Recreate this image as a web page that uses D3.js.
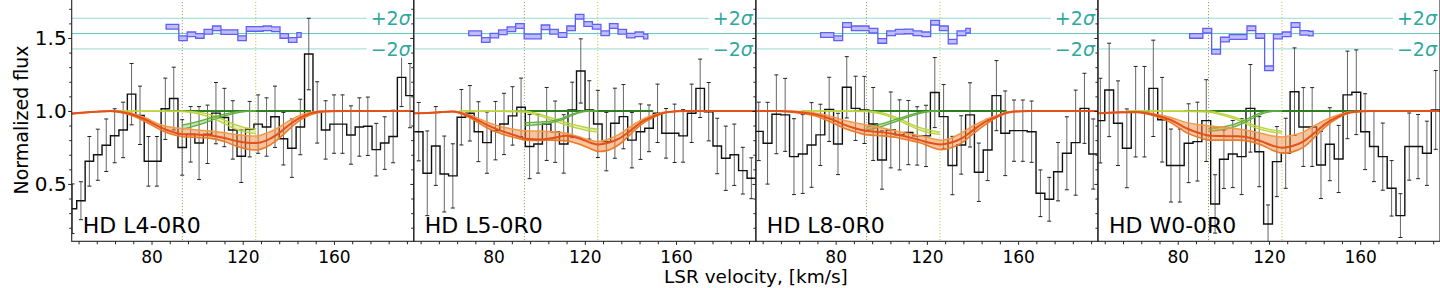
<!DOCTYPE html>
<html>
<head>
<meta charset="utf-8">
<script src="https://cdn.jsdelivr.net/npm/d3@7"></script>
<style>
  body { margin: 0; background: #fff; }
  svg { display: block; font-family: "DejaVu Sans", sans-serif; }
</style>
</head>
<body>
<svg id="chart" width="1440" height="288"></svg>
<script>
// ---------------- data ----------------
const panelNames = ["HD L4-0R0", "HD L5-0R0", "HD L8-0R0", "HD W0-0R0"];

// spectral bins: left edge of the first bin and bin width, km/s
const binStart = [43.5, 45.3, 44.34, 44.13];
const binWidth = [3.70, 3.74, 3.86, 3.87];

const flux = [
  [0.33, 0.385, 0.655, 0.70, 0.765, 0.83, 0.87, 1.115, 0.97, 0.655, 0.655, 1.015, 1.085, 0.75, 0.84, 0.78, 0.84, 0.985, 0.955, 0.87, 0.69,
   0.875, 0.91, 0.89, 0.96, 0.81, 0.745, 0.89, 1.39, 0.99, 0.87, 0.91, 0.91, 0.835, 0.89, 0.895, 0.735, 0.78, 0.825, 1.23, 1.105],
  [0.858, 0.573, 0.760, 0.568, 0.555, 0.957, 0.984, 0.858, 0.783, 0.865, 0.911, 0.966, 1.025, 0.756, 0.774, 0.911, 0.858, 0.774, 1.007, 1.274,
   1.007, 0.911, 0.79, 0.916, 0.961, 0.80, 0.858, 0.881, 0.984, 0.847, 0.847, 0.829, 0.984, 1.155, 0.995, 0.76, 0.676, 0.70, 0.591, 0.539],
  [0.86, 0.779, 0.977, 0.973, 0.687, 0.705, 0.767, 0.836, 1.011, 0.774, 1.162, 1.018, 1.007, 0.911, 0.664, 0.870, 0.836, 0.852, 0.829, 0.829,
   1.126, 0.961, 0.626, 0.767, 0.973, 0.580, 0.733, 1.105, 0.847, 0.865, 0.865, 0.858, 0.436, 0.395, 0.584, 0.710, 0.783, 1.018, 0.705],
  [0.934, 1.144, 0.916, 0.744, 0.995, 0.995, 1.155, 0.94, 0.626, 0.626, 0.779, 0.79, 0.934, 0.363, 0.669, 0.705, 0.687, 1.018, 0.721, 0.226,
   0.653, 0.71, 1.132, 0.89, 0.89, 0.63, 0.772, 0.671, 1.11, 1.128, 0.858, 0.756, 0.687, 0.47, 0.283, 0.756, 0.756, 0.71, 1.007]
];

const fluxErr = [
  [0.17, 0.13, 0.17, 0.175, 0.18, 0.185, 0.19, 0.21, 0.2, 0.17, 0.17, 0.21, 0.215, 0.19, 0.19, 0.25, 0.2, 0.21, 0.2, 0.2, 0.18,
   0.19, 0.2, 0.2, 0.21, 0.18, 0.2, 0.19, 0.245, 0.21, 0.2, 0.2, 0.2, 0.2, 0.2, 0.2, 0.18, 0.18, 0.18, 0.2, 0.22],
  [0.2, 0.29, 0.27, 0.26, 0.22, 0.19, 0.19, 0.205, 0.21, 0.2, 0.21, 0.2, 0.2, 0.22, 0.2, 0.25, 0.21, 0.2, 0.19, 0.22,
   0.2, 0.23, 0.2, 0.24, 0.22, 0.19, 0.19, 0.16, 0.2, 0.17, 0.2, 0.18, 0.2, 0.2, 0.2, 0.19, 0.22, 0.21, 0.16, 0.14],
  [0.2, 0.28, 0.27, 0.25, 0.26, 0.27, 0.29, 0.21, 0.22, 0.21, 0.21, 0.22, 0.23, 0.25, 0.2, 0.26, 0.24, 0.22, 0.2, 0.21,
   0.24, 0.22, 0.2, 0.2, 0.22, 0.2, 0.21, 0.24, 0.29, 0.21, 0.21, 0.21, 0.16, 0.15, 0.2, 0.25, 0.36, 0.24, 0.24],
  [0.29, 0.32, 0.29, 0.27, 0.31, 0.31, 0.33, 0.29, 0.25, 0.25, 0.27, 0.27, 0.28, 0.2, 0.2, 0.23, 0.26, 0.3, 0.24, 0.13,
   0.24, 0.24, 0.3, 0.27, 0.27, 0.23, 0.25, 0.23, 0.3, 0.29, 0.26, 0.24, 0.23, 0.19, 0.15, 0.23, 0.22, 0.22, 0.27]
];

// residuals (shifted to the 1.53 level): centre of first bin, then one value per bin
const resStart = [86.4, 69.1, 73.4, 85.2];
const resid = [
  [1.577, 1.577, 1.498, 1.525, 1.514, 1.543, 1.566, 1.54, 1.54, 1.498, 1.562, 1.562, 1.566, 1.56, 1.514, 1.486, 1.52],
  [1.532, 1.532, 1.486, 1.516, 1.539, 1.56, 1.582, 1.51, 1.51, 1.573, 1.543, 1.52, 1.566, 1.646, 1.596, 1.577, 1.532, 1.582, 1.543, 1.516, 1.525, 1.51],
  [1.52, 1.52, 1.498, 1.589, 1.566, 1.566, 1.55, 1.48, 1.532, 1.543, 1.545, 1.532, 1.525, 1.605, 1.566, 1.475, 1.532, 1.55],
  [1.514, 1.514, 1.55, 1.406, 1.489, 1.507, 1.507, 1.566, 1.514, 1.292, 1.51, 1.525, 1.589, 1.535, 1.53]
];

const modelVel = [45, 55, 62, 70, 77, 84, 90, 94, 100, 106, 112, 117, 122, 126, 130, 135, 140, 145, 150, 156, 165, 195];
const modelHigh = [
  [0.985, 0.995, 1.0, 0.99, 0.955, 0.905, 0.885, 0.88, 0.87, 0.862, 0.85, 0.838, 0.83, 0.828, 0.845, 0.88, 0.93, 0.97, 0.992, 1.0, 1.0, 1.0],
  [0.985, 0.99, 0.998, 0.97, 0.925, 0.89, 0.872, 0.865, 0.862, 0.858, 0.847, 0.825, 0.8, 0.79, 0.805, 0.84, 0.893, 0.94, 0.972, 0.995, 1.0, 1.0],
  [1.0, 1.0, 0.998, 0.988, 0.968, 0.935, 0.915, 0.903, 0.885, 0.865, 0.845, 0.83, 0.812, 0.8, 0.81, 0.848, 0.895, 0.935, 0.965, 0.995, 1.0, 1.0],
  [0.985, 0.992, 0.995, 0.98, 0.955, 0.92, 0.905, 0.897, 0.888, 0.878, 0.862, 0.845, 0.828, 0.822, 0.832, 0.855, 0.9, 0.94, 0.97, 0.995, 1.0, 1.0]
];
const modelLow = [
  [0.98, 0.993, 0.998, 0.975, 0.93, 0.87, 0.835, 0.823, 0.818, 0.812, 0.79, 0.76, 0.738, 0.733, 0.75, 0.8, 0.87, 0.935, 0.975, 0.995, 1.0, 1.0],
  [0.983, 0.99, 0.995, 0.95, 0.885, 0.84, 0.815, 0.8, 0.798, 0.8, 0.795, 0.775, 0.745, 0.722, 0.73, 0.77, 0.84, 0.91, 0.955, 0.99, 1.0, 1.0],
  [1.0, 0.998, 0.99, 0.97, 0.93, 0.88, 0.85, 0.836, 0.83, 0.82, 0.8, 0.782, 0.752, 0.735, 0.745, 0.778, 0.84, 0.9, 0.95, 0.988, 1.0, 1.0],
  [0.983, 0.99, 0.99, 0.965, 0.92, 0.85, 0.815, 0.8, 0.8, 0.8, 0.79, 0.765, 0.728, 0.71, 0.718, 0.75, 0.82, 0.895, 0.95, 0.988, 1.0, 1.0]
];
const modelBest = [
  [0.983, 0.994, 1.0, 0.982, 0.943, 0.888, 0.853, 0.84, 0.838, 0.832, 0.815, 0.795, 0.782, 0.78, 0.795, 0.838, 0.9, 0.952, 0.985, 0.998, 1.0, 1.0],
  [0.984, 0.99, 0.996, 0.96, 0.905, 0.86, 0.83, 0.81, 0.805, 0.815, 0.83, 0.815, 0.785, 0.77, 0.78, 0.81, 0.865, 0.925, 0.962, 0.992, 1.0, 1.0],
  [1.0, 0.999, 0.994, 0.98, 0.95, 0.905, 0.875, 0.862, 0.855, 0.84, 0.82, 0.8, 0.78, 0.77, 0.78, 0.81, 0.865, 0.92, 0.958, 0.992, 1.0, 1.0],
  [0.984, 0.991, 0.993, 0.972, 0.938, 0.88, 0.845, 0.83, 0.828, 0.826, 0.815, 0.79, 0.76, 0.748, 0.758, 0.79, 0.85, 0.915, 0.96, 0.992, 1.0, 1.0]
];

// single components between the two velocity markers
const compVel = [93.5, 97, 101, 105, 109, 113, 117, 121, 125.7];
const compAHigh = [
  [0.905, 0.915, 0.93, 0.948, 0.966, 0.982, 0.993, 0.998, 1.0],
  [0.92, 0.922, 0.925, 0.93, 0.945, 0.97, 0.99, 1.0, 1.0],
  [0.89, 0.9, 0.915, 0.935, 0.955, 0.975, 0.99, 0.998, 1.0],
  [0.88, 0.885, 0.895, 0.91, 0.935, 0.965, 0.99, 1.0, 1.0]
];
const compALow = [
  [0.875, 0.888, 0.906, 0.928, 0.95, 0.97, 0.985, 0.995, 1.0],
  [0.9, 0.903, 0.908, 0.918, 0.935, 0.96, 0.985, 0.998, 1.0],
  [0.87, 0.88, 0.898, 0.92, 0.942, 0.965, 0.983, 0.995, 1.0],
  [0.86, 0.865, 0.875, 0.893, 0.918, 0.95, 0.98, 0.995, 1.0]
];
const compBHigh = [
  [1.0, 0.997, 0.99, 0.978, 0.958, 0.93, 0.905, 0.885, 0.875],
  [1.0, 0.99, 0.975, 0.955, 0.935, 0.915, 0.9, 0.885, 0.875],
  [1.0, 0.996, 0.985, 0.965, 0.94, 0.91, 0.885, 0.868, 0.855],
  [1.0, 0.99, 0.975, 0.958, 0.935, 0.905, 0.885, 0.87, 0.862]
];
const compBLow = [
  [0.995, 0.99, 0.978, 0.96, 0.935, 0.905, 0.875, 0.855, 0.845],
  [0.993, 0.98, 0.962, 0.94, 0.918, 0.898, 0.88, 0.865, 0.855],
  [0.995, 0.988, 0.975, 0.952, 0.925, 0.895, 0.868, 0.85, 0.84],
  [0.993, 0.982, 0.965, 0.945, 0.92, 0.89, 0.87, 0.855, 0.848]
];
const compBLead = [62, 65, 65, 58];        // flat part of 2nd component at 1.0
const contSpan = [[86, 150], [89.6, 150], [88, 155], [83, 161]];  // dark green continuum

const compLines = [93.5, 125.7];
const sigmaLevels = [1.635, 1.53, 1.425];
const sigmaSigns = ["+2", "", "\u22122"];

const xMajor = [80, 120, 160];
const xMinor = [48, 56, 64, 72, 88, 96, 104, 112, 128, 136, 144, 152, 168, 176, 184, 192];
const yMajor = [0.5, 1.0, 1.5];
const yMinor = [0.2, 0.3, 0.4, 0.6, 0.7, 0.8, 0.9, 1.1, 1.2, 1.3, 1.4, 1.6, 1.7];

// ---------------- layout ----------------
const plotLeft = 71.7, plotBottom = 241.3, plotTop = -1;
const panelW = (1440 - plotLeft) / 4;

const svg = d3.select("#chart");
const defs = svg.append("defs");

const y = d3.scaleLinear().domain([0.107, 1.767]).range([plotBottom, plotTop]);

panelNames.forEach((name, p) => {
  const x0 = plotLeft + p * panelW;
  const x = d3.scaleLinear().domain([45, 195]).range([x0, x0 + panelW]);

  defs.append("clipPath").attr("id", "clip" + p)
    .append("rect").attr("x", x0).attr("y", plotTop).attr("width", panelW).attr("height", plotBottom - plotTop);

  const g = svg.append("g").attr("clip-path", `url(#clip${p})`);

  // residual reference levels
  g.selectAll(".sig").data(sigmaLevels).enter().append("line")
    .attr("x1", x0).attr("x2", x0 + panelW)
    .attr("y1", d => y(d)).attr("y2", d => y(d))
    .attr("stroke", (d, i) => i === 1 ? "#5cc6bb" : "#93dbd2")
    .attr("stroke-width", 1);

  // velocity markers
  g.selectAll(".vline").data(compLines).enter().append("line")
    .attr("x1", d => x(d)).attr("x2", d => x(d))
    .attr("y1", plotTop).attr("y2", plotBottom)
    .attr("stroke", (d, i) => i === 0 ? "#9c9c78" : "#c8c85a")
    .attr("stroke-width", 1).attr("stroke-dasharray", "1.2,1.8");

  // data: bins
  const edges = flux[p].map((f, i) => binStart[p] + i * binWidth[p]);
  const stepPts = flux[p].map((f, i) => [edges[i], f]);
  stepPts.push([binStart[p] + flux[p].length * binWidth[p], flux[p][flux[p].length - 1]]);

  const bars = flux[p].map((f, i) => ({ v: edges[i] + binWidth[p] / 2, f: f, e: fluxErr[p][i] }))
    .filter(d => d.v >= 45 && d.v <= 195);

  g.selectAll(".err").data(bars).enter().append("line")
    .attr("x1", d => x(d.v)).attr("x2", d => x(d.v))
    .attr("y1", d => y(d.f - d.e)).attr("y2", d => y(d.f + d.e))
    .attr("stroke", "#555").attr("stroke-width", 0.9);
  ["lo", "hi"].forEach(k => {
    g.selectAll(".cap" + k).data(bars).enter().append("line")
      .attr("x1", d => x(d.v) - 2).attr("x2", d => x(d.v) + 2)
      .attr("y1", d => y(k === "lo" ? d.f - d.e : d.f + d.e))
      .attr("y2", d => y(k === "lo" ? d.f - d.e : d.f + d.e))
      .attr("stroke", "#222").attr("stroke-width", 1);
  });

  g.append("path").datum(stepPts)
    .attr("d", d3.line().x(d => x(d[0])).y(d => y(d[1])).curve(d3.curveStepAfter))
    .attr("fill", "none").attr("stroke", "#111").attr("stroke-width", 1.4);

  // continuum
  g.append("line")
    .attr("x1", x(contSpan[p][0])).attr("x2", x(contSpan[p][1]))
    .attr("y1", y(1)).attr("y2", y(1))
    .attr("stroke", "#2f7d1f").attr("stroke-width", 2);

  // single components
  const cLine = d3.line().x(d => x(d[0])).y(d => y(d[1])).curve(d3.curveMonotoneX);
  const cArea = d3.area().x(d => x(d[0])).y0(d => y(d[1])).y1(d => y(d[2])).curve(d3.curveMonotoneX);

  const bPts = [[compBLead[p], 1, 1]].concat(compVel.map((v, i) => [v, compBLow[p][i], compBHigh[p][i]]));
  const aPts = compVel.map((v, i) => [v, compALow[p][i], compAHigh[p][i]]);

  [[bPts, "#b9d33c"], [aPts, "#5fae3e"]].forEach(([pts, col]) => {
    g.append("path").datum(pts).attr("d", cArea)
      .attr("fill", col).attr("fill-opacity", 0.35);
    g.append("path").datum(pts.map(d => [d[0], d[1]])).attr("d", cLine)
      .attr("fill", "none").attr("stroke", col).attr("stroke-width", 1.3);
    g.append("path").datum(pts.map(d => [d[0], d[2]])).attr("d", cLine)
      .attr("fill", "none").attr("stroke", col).attr("stroke-width", 1.3);
  });

  // total model band
  const mPts = modelVel.map((v, i) => [v, modelLow[p][i], modelHigh[p][i]]);
  g.append("path").datum(mPts).attr("d", cArea)
    .attr("fill", "#f08a3c").attr("fill-opacity", 0.5);
  g.append("path").datum(modelVel.map((v, i) => [v, modelHigh[p][i]])).attr("d", cLine)
    .attr("fill", "none").attr("stroke", "#f39a48").attr("stroke-width", 1.5);
  g.append("path").datum(modelVel.map((v, i) => [v, modelLow[p][i]])).attr("d", cLine)
    .attr("fill", "none").attr("stroke", "#ee7a26").attr("stroke-width", 1.6);
  g.append("path").datum(modelVel.map((v, i) => [v, modelBest[p][i]])).attr("d", cLine)
    .attr("fill", "none").attr("stroke", "#e4501c").attr("stroke-width", 2);

  // residuals
  const rPts = resid[p].map((r, i) => [resStart[p] + i * binWidth[p], r]);
  g.append("path").datum(rPts)
    .attr("d", d3.area().x(d => x(d[0])).y0(d => y(d[1] - 0.016)).y1(d => y(d[1] + 0.016)).curve(d3.curveStep))
    .attr("fill", "#bdbdff").attr("stroke", "#5f5ff4").attr("stroke-width", 1.3);

  // +-2 sigma labels
  sigmaLevels.forEach((lev, i) => {
    if (!sigmaSigns[i]) return;
    const lab = g.append("g");
    const t = lab.append("text")
      .attr("x", x0 + panelW - 3).attr("y", y(lev)).attr("dy", "0.36em")
      .attr("text-anchor", "end").style("font-size", "19px").style("fill", "#2fa89e");
    t.append("tspan").text(sigmaSigns[i]);
    t.append("tspan").style("font-style", "italic").text("\u03c3");
    const bb = t.node().getBBox();
    lab.insert("rect", "text")
      .attr("x", bb.x - 4).attr("y", bb.y + 2).attr("width", bb.width + 8).attr("height", bb.height - 4)
      .attr("fill", "#fff");
  });

  // panel name
  svg.append("text")
    .attr("x", x0 + 11).attr("y", 233)
    .style("font-size", "22px").style("fill", "#000")
    .text(name);

  // axes
  const ax = svg.append("g").attr("transform", `translate(0,${plotBottom})`);
  ax.call(d3.axisBottom(x).tickValues(xMajor).tickSize(3.5).tickPadding(6).tickFormat(d3.format("d")));
  ax.append("g").call(d3.axisBottom(x).tickValues(xMinor).tickSize(3).tickFormat(""));
  ax.selectAll("text").style("font-size", "17px").style("fill", "#000").attr("font-family", "DejaVu Sans");

  const ay = svg.append("g").attr("transform", `translate(${x0},0)`);
  ay.call(d3.axisLeft(y).tickValues(yMajor).tickSize(3.5).tickPadding(1.6)
    .tickFormat(p === 0 ? d3.format(".1f") : () => ""));
  ay.append("g").call(d3.axisLeft(y).tickValues(yMinor).tickSize(2.5).tickFormat(""));
  ay.selectAll("text").style("font-size", "20px").style("fill", "#000").attr("font-family", "DejaVu Sans");
  svg.selectAll(".domain").remove();

  // frame
  svg.append("rect")
    .attr("x", x0).attr("y", plotTop).attr("width", panelW).attr("height", plotBottom - plotTop)
    .attr("fill", "none").attr("stroke", "#222").attr("stroke-width", 1.1);
});

svg.selectAll(".tick line").attr("stroke", "#222");

// axis titles
svg.append("text")
  .attr("transform", "translate(28,120) rotate(-90)")
  .attr("text-anchor", "middle")
  .style("font-size", "19px")
  .text("Normalized flux");

svg.append("text")
  .attr("x", plotLeft + 2 * panelW).attr("y", 283)
  .attr("text-anchor", "middle")
  .style("font-size", "18.5px")
  .text("LSR velocity, [km/s]");
</script>
</body>
</html>
